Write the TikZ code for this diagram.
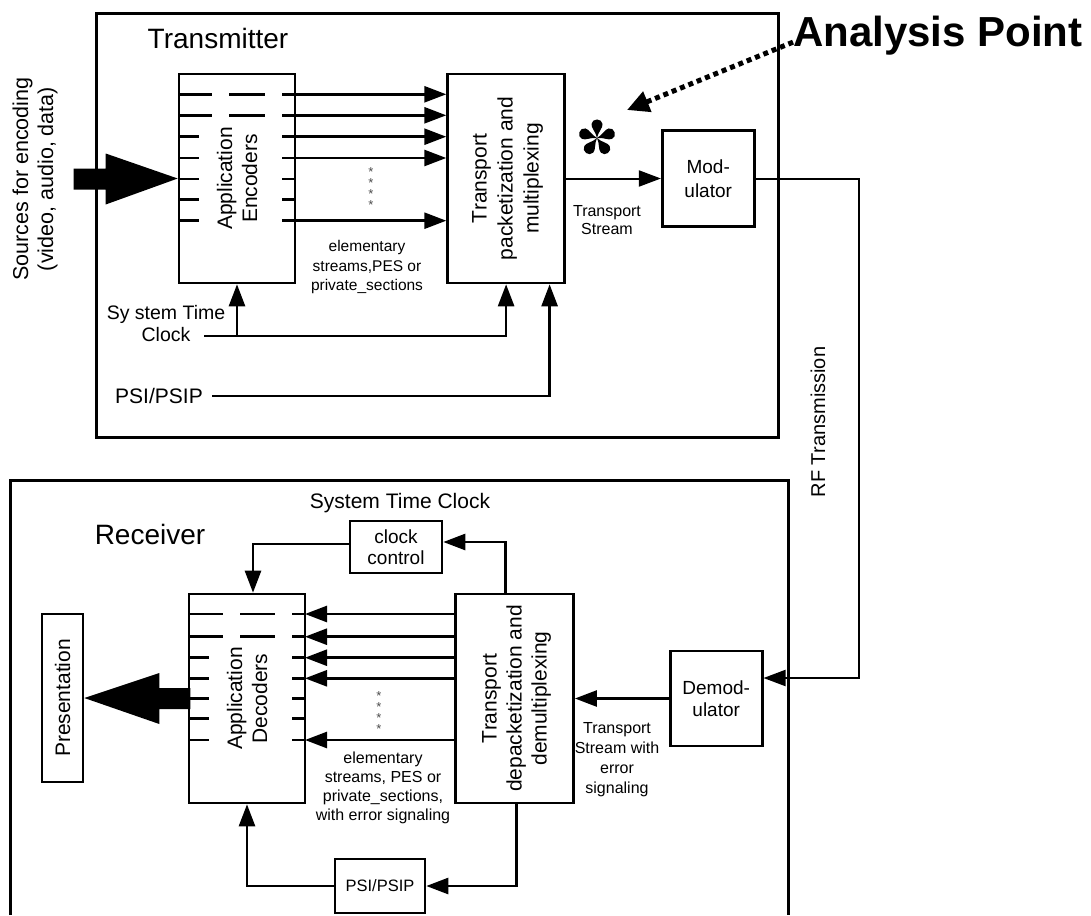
\documentclass[tikz,border=0pt]{standalone}
\usepackage{fontspec}
\setmainfont{Liberation Sans}
\usetikzlibrary{arrows.meta}
\usetikzlibrary{positioning}
\tikzset{%
  >={Triangle[width=16pt,length=22pt]},
  % Specifications for style of boxes and lines:
            base1/.style = {rectangle, draw=black, line width=2.6pt,
                           inner sep=0pt, align=center},
         blockbox/.style = {base1, minimum width=116, minimum height=209},
         smallbox/.style = {base1, minimum width=92, minimum height=96,
                           font=\fontsize{19}{24}\selectfont},
         sysframe/.style = {line width=3pt},
             wire/.style = {line width=2.6pt},
         thinwire/.style = {line width=2pt},
        stubline/.style = {line width=2.6pt},
          dotarrow/.style = {line width=5pt, dash pattern=on 5pt off 4pt,
                           -{Triangle[width=21pt,length=22pt]}},
            petal/.style = {fill=black},
            vtext/.style = {rotate=90, align=center,
                           font=\fontsize{21}{25}\selectfont},
          bigtext/.style = {font=\fontsize{28}{30}\selectfont},
          midtext/.style = {align=center, font=\fontsize{19.5}{22}\selectfont},
        smalltext/.style = {align=center, inner sep=0pt,
                           font=\fontsize{15.5}{19.5}\selectfont},
         dotstext/.style = {align=center, inner sep=0pt, text=black!70,
                           font=\fontsize{13}{11}\selectfont}
}
% one teardrop petal of the analysis point marker, pointing up from (0,0)
\newcommand{\tearpetal}{(0,0) .. controls (-1,-6) and (-6,-10) .. (-5.5,-14)
  .. controls (-5,-20) and (5,-20) .. (5.5,-14) .. controls (6,-10) and (1,-6) .. (0,0)}

\begin{document}
\begin{tikzpicture}[x=1pt, y=-1pt]
  \useasboundingbox (0,0) rectangle (1091,915);
  % Transmitter and receiver frames
  \draw[sysframe] (96,14) rectangle (778,437);
  \draw[sysframe] (10,915) -- (10,480) -- (788,480) -- (788,915);
  \node (txlbl)   [bigtext, anchor=base] at (218,49) {Transmitter};
  \node (rxlbl)   [bigtext, anchor=base] at (150,544) {Receiver};

  % Transmitter blocks
  \node (enc)     [blockbox] at (237,178.5) {};
  \node (tpack)   [blockbox, minimum width=117, right=150 of enc] {};
  \node (mod)     [smallbox, right=95 of tpack] {Mod-\\ulator};
  \node (enctxt)  [vtext] at (enc) {Application\\Encoders};
  \node (tpacktxt)[vtext, font=\fontsize{21}{26}\selectfont] at ([xshift=1.5]tpack)
                  {Transport\\packetization and\\multiplexing};
  \node (srclbl)  [vtext, font=\fontsize{21.5}{25}\selectfont] at (35,179)
                  {Sources for encoding\\(video, audio, data)};
  \node (eslbl)   [smalltext] at (367,267) {elementary\\streams,PES or\\private\_sections};
  \node (tslbl)   [smalltext, font=\fontsize{16}{18.5}\selectfont] at (607,220) {Transport\\Stream};
  \node (stclbl)  [midtext] at (166,324) {Sy stem Time\\Clock};
  \node (psilbl)  [midtext, font=\fontsize{21}{22}\selectfont] at (159,396) {PSI/PSIP};
  \node (txdots)  [dotstext] at (371,188.8) {*\\*\\*\\*};
  \node (rflbl)   [vtext, font=\fontsize{20}{22}\selectfont] at (818,422) {RF Transmission};
  \node (ap)      [inner sep=0pt, anchor=base west, font=\bfseries\fontsize{42}{42}\selectfont]
                  at (793,47) {Analysis Point};

  % stubs inside the encoders
  \draw[stubline] (179,94.3) -- (212,94.3) (229,94.3) -- (265,94.3)
                  (179,115.3) -- (212,115.3) (229,115.3) -- (265,115.3)
                  (179,136.7) -- (199,136.7) (179,158) -- (199,158)
                  (179,179) -- (199,179) (179,199.3) -- (199,199.3)
                  (179,220.7) -- (199,220.7)
                  (282,179) -- (295,179) (282,199.3) -- (295,199.3);
  \coordinate (e1) at (282,94.3);
  \coordinate (e2) at (282,115.3);
  \coordinate (e3) at (282,136.7);
  \coordinate (e4) at (282,158);
  \coordinate (e7) at (282,220.7);
  \draw[wire,->] (e1) -- (e1 -| tpack.west);
  \draw[wire,->] (e2) -- (e2 -| tpack.west);
  \draw[wire,->] (e3) -- (e3 -| tpack.west);
  \draw[wire,->] (e4) -- (e4 -| tpack.west);
  \draw[wire,->] (e7) -- (e7 -| tpack.west);

  % big source arrow
  \fill (enc.west) -- ++(-72,-25) -- ++(0,15) -- ++(-32,0) -- ++(0,21)
        -- ++(32,0) -- ++(0,15) -- cycle;

  % clock and PSI/PSIP feeds
  \coordinate (stc) at (204,336);
  \coordinate (psi) at (212,396);
  \draw[wire,->] (stc) -| (tpack.south);
  \draw[wire,->] (stc -| enc.south) -- (enc.south);
  \draw[wire,->] (psi) -| ([xshift=43.5]tpack.south);
  \draw[thinwire,->] (tpack) -- (mod);

  % analysis point marker
  \begin{scope}[shift={(597,138)}]
    \fill[petal] \tearpetal;
    \fill[petal, rotate=72] \tearpetal;
    \fill[petal, rotate=144] \tearpetal;
    \fill[petal, rotate=216] \tearpetal;
    \fill[petal, rotate=288] \tearpetal;
  \end{scope}
  \coordinate (apt) at (627,110);
  \draw[dotarrow] ([yshift=-6]ap.west) -- (apt);

  % Receiver blocks
  \node (dec)     [blockbox] at (247,698.5) {};
  \node (tdemux)  [blockbox, minimum width=118, right=148 of dec] {};
  \node (demod)   [smallbox, minimum height=95, right=94 of tdemux,
                   font=\fontsize{19}{22.5}\selectfont] {Demod-\\ulator};
  \node (clockctl)[smallbox, minimum height=52, font=\fontsize{19}{21}\selectfont]
                  at (396,547) {clock\\control};
  \node (psibox)  [smallbox, minimum width=90, minimum height=54,
                   font=\fontsize{16.5}{18}\selectfont] at (380,886) {PSI/PSIP};
  \node (pres)    [base1, minimum width=41, minimum height=168] at (62.5,698) {};
  \node (prestxt) [vtext] at (pres) {Presentation};
  \node (dectxt)  [vtext] at (dec) {Application\\Decoders};
  \node (tdmxtxt) [vtext] at ([xshift=2]tdemux)
                  {Transport\\depacketization and\\demultiplexing};
  \node (rstclbl) [midtext, font=\fontsize{21}{22}\selectfont] at (400,503) {System Time Clock};
  \node (errlbl)  [smalltext, font=\fontsize{16}{19}\selectfont] at (383,788)
                  {elementary\\streams, PES or\\private\_sections,\\with error signaling};
  \node (tserr)   [smalltext, font=\fontsize{16}{20}\selectfont] at (617,760)
                  {Transport\\Stream with\\error\\signaling};
  \node (rxdots)  [dotstext] at (379,713) {*\\*\\*\\*};

  % stubs inside the decoders
  \draw[stubline] (189,614) -- (223,614) (240,614) -- (275,614)
                  (189,636.7) -- (223,636.7) (240,636.7) -- (275,636.7)
                  (189,657.7) -- (209,657.7) (189,678.3) -- (209,678.3)
                  (189,698.7) -- (209,698.7) (189,718.7) -- (209,718.7)
                  (189,740) -- (209,740)
                  (292,614) -- (305,614) (292,636.7) -- (305,636.7)
                  (292,657.7) -- (305,657.7) (292,678.3) -- (305,678.3)
                  (292,698.7) -- (305,698.7) (292,718.7) -- (305,718.7)
                  (292,740) -- (305,740);
  \coordinate (d1) at (305,614);
  \coordinate (d2) at (305,636.7);
  \coordinate (d3) at (305,657.7);
  \coordinate (d4) at (305,678.3);
  \coordinate (d7) at (305,740);
  \draw[wire,->] (d1 -| tdemux.west) -- (d1);
  \draw[wire,->] (d2 -| tdemux.west) -- (d2);
  \draw[wire,->] (d3 -| tdemux.west) -- (d3);
  \draw[wire,->] (d4 -| tdemux.west) -- (d4);
  \draw[wire,->] (d7 -| tdemux.west) -- (d7);

  % big presentation arrow
  \fill (pres.east) -- ++(75,-25) -- ++(0,15) -- ++(31,0) -- ++(0,21)
        -- ++(-31,0) -- ++(0,15) -- cycle;

  % receiver connections
  \draw[thinwire,->] (mod.east) -- ++(103,0) |- ([yshift=20.5]demod.east);
  \draw[wire,->] (demod) -- (tdemux);
  \draw[wire,->] ([xshift=-9]tdemux.north) |- ([yshift=5]clockctl.east);
  \draw[wire,->] ([yshift=3]clockctl.west) -| ([xshift=6]dec.north);
  \draw[wire,->] ([xshift=2]tdemux.south) |- (psibox.east);
  \draw[wire,->] (psibox.west) -| (dec.south);

\end{tikzpicture}
\end{document}
